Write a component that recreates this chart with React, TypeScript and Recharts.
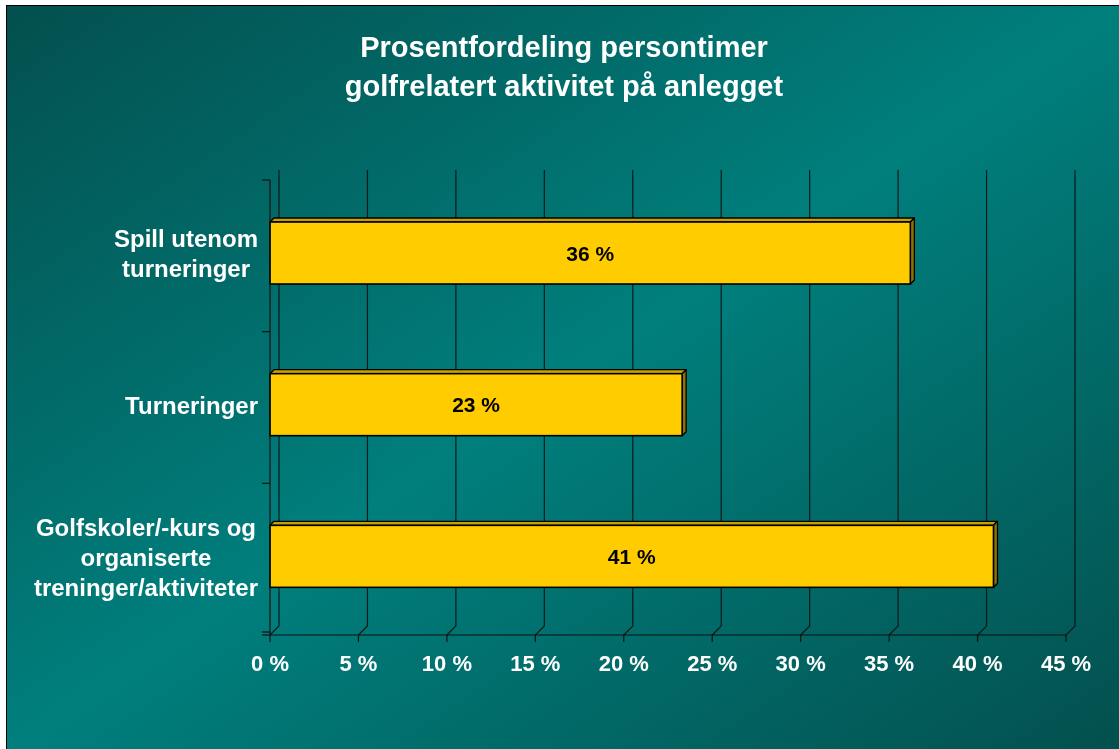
import React from 'react';
import { BarChart, Bar, XAxis, YAxis, CartesianGrid, LabelList } from 'recharts';

const categories = ['Spill utenom turneringer', 'Turneringer', 'Golfskoler/-kurs og organiserte treninger/aktiviteter'];
const categoryLines = [['Spill utenom', 'turneringer'], ['Turneringer'], ['Golfskoler/-kurs og', 'organiserte', 'treninger/aktiviteter']];
const shares = [36.2, 23.3, 40.9];
const xTicks = [0, 5, 10, 15, 20, 25, 30, 35, 40, 45];
const titleLines = ['Prosentfordeling persontimer', 'golfrelatert aktivitet på anlegget'];

const data = categories.map((name, i) => ({ name, value: shares[i], lines: categoryLines[i] }));

const W = 1119;
const H = 749;
const PLOT_LEFT = 270;
const PLOT_RIGHT = 1066;
const PLOT_TOP = 180;
const PLOT_BOTTOM = 635;
const XAXIS_H = 40;
const DEPTH = 9;
const BAR_DEPTH = 4;
const FONT = '"Liberation Sans", Arial, Helvetica, sans-serif';
const LABEL_FONT_SIZE = 24;
const LINE_GAP = 30;

let canvasCtx: CanvasRenderingContext2D | null = null;
function measure(text: string): number {
  if (!canvasCtx) {
    const c = document.createElement('canvas');
    canvasCtx = c.getContext('2d');
  }
  if (!canvasCtx) return text.length * LABEL_FONT_SIZE * 0.55;
  canvasCtx.font = `bold ${LABEL_FONT_SIZE}px "Liberation Sans", Arial, sans-serif`;
  return canvasCtx.measureText(text).width;
}

const bandSize = (PLOT_BOTTOM - PLOT_TOP) / categories.length;

function YTick(props: any) {
  const { y, payload, index } = props;
  const item = data.find((d) => d.name === payload.value);
  const lines = item ? item.lines : [String(payload.value)];
  const maxW = Math.max(...lines.map(measure));
  const rightEdge = PLOT_LEFT - 12;
  const cx = rightEdge - maxW / 2;
  const blockCenter = y - 2;
  const startY = blockCenter - ((lines.length - 1) * LINE_GAP) / 2;
  const topY = y - bandSize / 2;
  const botY = y + bandSize / 2;
  return (
    <g>
      <line x1={PLOT_LEFT - 8} x2={PLOT_LEFT} y1={topY} y2={topY} stroke="#111" strokeWidth={1.2} />
      {index === categories.length - 1 && (
        <line x1={PLOT_LEFT - 8} x2={PLOT_LEFT} y1={botY - 3} y2={botY - 3} stroke="#111" strokeWidth={1.2} />
      )}
      {lines.map((ln, i) => (
        <text
          key={i}
          x={cx}
          y={startY + i * LINE_GAP}
          dy="0.36em"
          textAnchor="middle"
          fill="#ffffff"
          fontFamily={FONT}
          fontWeight="bold"
          fontSize={LABEL_FONT_SIZE}
        >
          {ln}
        </text>
      ))}
    </g>
  );
}

function XTick(props: any) {
  const { x, payload, index } = props;
  return (
    <g>
      {index === 0 && <line x1={x - 8} x2={x} y1={PLOT_BOTTOM} y2={PLOT_BOTTOM} stroke="#111" strokeWidth={1.2} />}
      <line x1={x} x2={x} y1={PLOT_BOTTOM} y2={PLOT_BOTTOM + 7} stroke="#111" strokeWidth={1.2} />
      <text
        x={x}
        y={PLOT_BOTTOM + 28}
        dy="0.36em"
        textAnchor="middle"
        fill="#ffffff"
        fontFamily={FONT}
        fontWeight="bold"
        fontSize={22}
      >
        {`${payload.value} %`}
      </text>
    </g>
  );
}

function GridLine(props: any) {
  const { x1, y1, y2 } = props;
  const d = `M${x1},${y2} L${x1 + DEPTH},${y2 - DEPTH} L${x1 + DEPTH},${y1 - 10}`;
  return <path key={props.key} d={d} fill="none" stroke="#0a1a1a" strokeWidth={1.2} />;
}

function Bar3D(props: any) {
  const { x, y, width, height } = props;
  if (width == null || height == null) return null;
  const yy = y - 3;
  const d = BAR_DEPTH;
  const top = `M${x},${yy} L${x + d},${yy - d} L${x + width + d},${yy - d} L${x + width},${yy} Z`;
  const side = `M${x + width},${yy} L${x + width + d},${yy - d} L${x + width + d},${yy + height - d} L${x + width},${yy + height} Z`;
  return (
    <g>
      <path d={top} fill="#c9a000" stroke="#000" strokeWidth={1.3} strokeLinejoin="round" />
      <path d={side} fill="#8f7200" stroke="#000" strokeWidth={1.3} strokeLinejoin="round" />
      <rect x={x} y={yy} width={width} height={height} fill="#ffcc00" stroke="#000" strokeWidth={1.6} />
    </g>
  );
}

function ValueLabel(props: any) {
  const { x, y, width, height, value } = props;
  return (
    <text
      x={x + width / 2}
      y={y + height / 2 - 3}
      dy="0.36em"
      textAnchor="middle"
      fill="#000"
      fontFamily={FONT}
      fontWeight="bold"
      fontSize={21}
    >
      {`${Math.round(Number(value))} %`}
    </text>
  );
}

export default function App() {
  return (
    <div style={{ position: 'fixed', left: 0, top: 0, width: W, height: H, overflow: 'hidden' }}>
      <div
        style={{
          position: 'absolute',
          left: 6,
          top: 5,
          width: W - 6,
          height: H - 5,
          borderLeft: '1.5px solid #000',
          borderTop: '1.5px solid #000',
          background: 'linear-gradient(to bottom right, #03504e 0%, #007f7d 50%, #03504e 100%)',
        }}
      />
      <div
        style={{
          position: 'absolute',
          left: 0,
          top: 28,
          width: 1128,
          textAlign: 'center',
          color: '#fff',
          fontFamily: FONT,
          fontWeight: 'bold',
          fontSize: 29,
          lineHeight: '39px',
        }}
      >
        {titleLines.map((t, i) => (
          <div key={i}>{t}</div>
        ))}
      </div>
      <div style={{ position: 'absolute', left: 0, top: 0 }}>
        <BarChart
          width={W}
          height={H}
          data={data}
          layout="vertical"
          margin={{ top: PLOT_TOP, right: W - PLOT_RIGHT, bottom: H - PLOT_BOTTOM - XAXIS_H, left: 0 }}
          barCategoryGap={0}
        >
          <CartesianGrid horizontal={false} vertical={GridLine as any} />
          <XAxis
            type="number"
            domain={[0, 45]}
            ticks={xTicks}
            interval={0}
            height={XAXIS_H}
            axisLine={{ stroke: '#111', strokeWidth: 1.2 }}
            tickLine={false}
            tick={XTick as any}
          />
          <YAxis
            type="category"
            dataKey="name"
            width={PLOT_LEFT}
            interval={0}
            axisLine={{ stroke: '#111', strokeWidth: 1.2 }}
            tickLine={false}
            tick={YTick as any}
          />
          <Bar dataKey="value" barSize={62} isAnimationActive={false} shape={Bar3D as any}>
            <LabelList dataKey="value" content={ValueLabel as any} />
          </Bar>
        </BarChart>
      </div>
    </div>
  );
}
